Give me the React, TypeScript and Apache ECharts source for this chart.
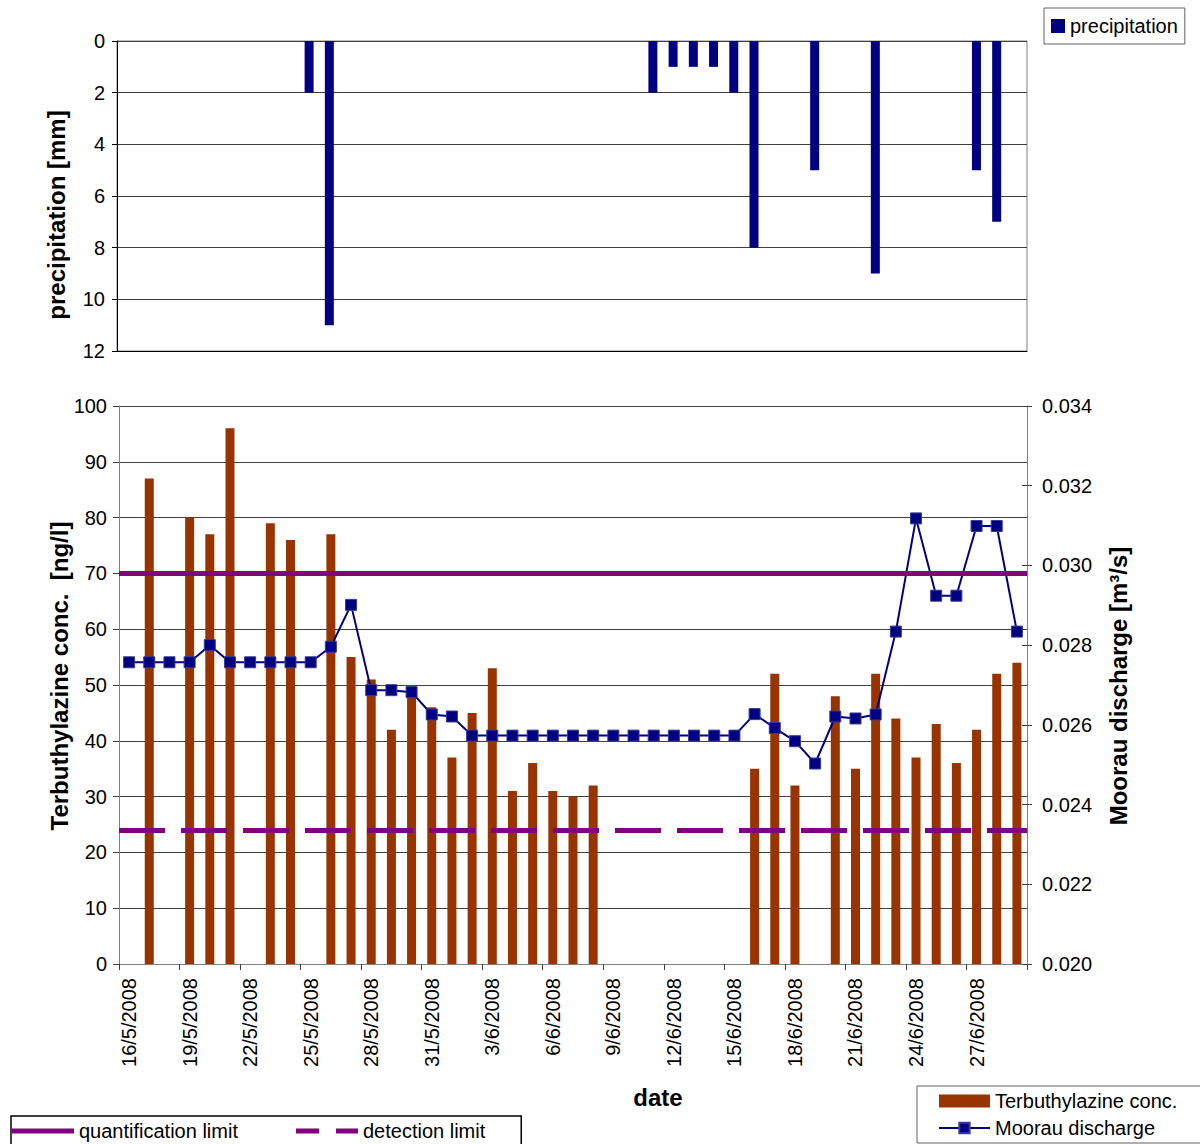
import React, { useEffect, useRef } from 'react';
import * as echarts from 'echarts';

const dates = [
  '16/5/2008', '17/5/2008', '18/5/2008', '19/5/2008', '20/5/2008', '21/5/2008', '22/5/2008', '23/5/2008',
  '24/5/2008', '25/5/2008', '26/5/2008', '27/5/2008', '28/5/2008', '29/5/2008', '30/5/2008', '31/5/2008',
  '1/6/2008', '2/6/2008', '3/6/2008', '4/6/2008', '5/6/2008', '6/6/2008', '7/6/2008', '8/6/2008',
  '9/6/2008', '10/6/2008', '11/6/2008', '12/6/2008', '13/6/2008', '14/6/2008', '15/6/2008', '16/6/2008',
  '17/6/2008', '18/6/2008', '19/6/2008', '20/6/2008', '21/6/2008', '22/6/2008', '23/6/2008', '24/6/2008',
  '25/6/2008', '26/6/2008', '27/6/2008', '28/6/2008', '29/6/2008',
];

const precipitation = [
  null, null, null, null, null, null, null, null, null, 2, 11,
  null, null, null, null, null, null, null, null, null, null, null, null, null, null, null,
  2, 1, 1, 1, 2, 8, null, null, 5, null, null, 9, null, null, null, null, 5, 7, null,
];

const terbuthylazine = [
  null, 87, null, 80, 77, 96, null, 79, 76, null,
  77, 55, 51, 42, 50, 46, 37, 45, 53, 31,
  36, 31, 30, 32, null, null, null, null, null, null, null,
  35, 52, 32, null, 48, 35, 52, 44, 37, 43, 36, 42, 52, 54,
];

const discharge = [
  0.02757, 0.02757, 0.02757, 0.02757, 0.0280, 0.02757, 0.02757, 0.02757, 0.02757, 0.02757,
  0.02796, 0.02901, 0.02687, 0.02687, 0.02682, 0.02626, 0.02621,
  0.02573, 0.02573, 0.02573, 0.02573, 0.02573, 0.02573, 0.02573, 0.02573, 0.02573, 0.02573,
  0.02573, 0.02573, 0.02573, 0.02573,
  0.02627, 0.02592, 0.02559, 0.02503, 0.02621, 0.02616, 0.02626, 0.02834, 0.03118, 0.02924,
  0.02924, 0.03099, 0.03099, 0.02834,
];

const quantificationLimit = 70;
const detectionLimit = 24;

const FONT = '"Liberation Sans", Arial, sans-serif';

export default function App() {
  const ref = useRef<HTMLDivElement>(null);
  useEffect(() => {
    const chart = echarts.init(ref.current as HTMLDivElement, null, { renderer: 'svg' });
    const titleStyle = (text: string) => ({
      text,
      fontSize: 24,
      fontWeight: 'bold',
      fontFamily: FONT,
      fill: '#000',
      textAlign: 'center',
      textVerticalAlign: 'middle',
    });
    const option: any = {
      animation: false,
      textStyle: { fontFamily: FONT, color: '#000' },
      grid: [
        { left: 117, top: 41, width: 910, height: 310, show: true, borderColor: '#808080', borderWidth: 1 },
        { left: 119, top: 406, width: 908, height: 558, show: false },
      ],
      xAxis: [
        {
          gridIndex: 0, type: 'category', data: dates, boundaryGap: true, position: 'bottom',
          axisLine: { onZero: false, lineStyle: { color: '#000', width: 1 } },
          axisTick: { show: false }, axisLabel: { show: false }, splitLine: { show: false },
        },
        {
          gridIndex: 1, type: 'category', data: dates, boundaryGap: true, position: 'bottom',
          axisLine: { onZero: false, lineStyle: { color: '#808080', width: 1 } },
          axisTick: { show: true, interval: 2, length: 6, lineStyle: { color: '#404040' } },
          axisLabel: { interval: 2, rotate: 90, fontSize: 20, color: '#000', margin: 14, fontFamily: FONT },
          splitLine: { show: false },
        },
      ],
      yAxis: [
        {
          gridIndex: 0, type: 'value', inverse: true, min: 0, max: 12, interval: 2,
          axisLine: { show: true, lineStyle: { color: '#000' } },
          axisTick: { show: true, length: 5, lineStyle: { color: '#000' } },
          axisLabel: { fontSize: 20, color: '#000', margin: 12, fontFamily: FONT },
          splitLine: { show: true, lineStyle: { color: '#404040', width: 1 } },
        },
        {
          gridIndex: 1, type: 'value', min: 0, max: 100, interval: 10, position: 'left',
          axisLine: { show: true, lineStyle: { color: '#808080' } },
          axisTick: { show: true, length: 6, lineStyle: { color: '#404040' } },
          axisLabel: { fontSize: 20, color: '#000', margin: 12, fontFamily: FONT },
          splitLine: { show: true, lineStyle: { color: '#404040', width: 1 } },
        },
        {
          gridIndex: 1, type: 'value', min: 0.02, max: 0.034, interval: 0.002, position: 'right',
          axisLine: { show: true, lineStyle: { color: '#808080' } },
          axisTick: { show: true, length: 5, lineStyle: { color: '#404040' } },
          axisLabel: {
            fontSize: 20, color: '#000', margin: 15, fontFamily: FONT,
            formatter: (v: number) => v.toFixed(3),
          },
          splitLine: { show: false },
        },
        {
          gridIndex: 1, type: 'value', min: 0.02, max: 0.034, interval: 0.002, position: 'right',
          axisLine: { show: false },
          axisTick: { show: true, inside: true, length: 5, lineStyle: { color: '#404040' } },
          axisLabel: { show: false },
          splitLine: { show: false },
        },
      ],
      legend: [
        {
          left: 1044, top: 8, orient: 'horizontal', selectedMode: false,
          data: [{ name: 'precipitation', icon: 'rect' }],
          itemWidth: 14, itemHeight: 14, padding: [8, 7, 8, 7],
          borderColor: '#606060', borderWidth: 1,
          textStyle: { fontSize: 20, color: '#000', fontFamily: FONT },
        },
        {
          left: 917, top: 1086, orient: 'vertical', selectedMode: false,
          data: [{ name: 'Terbuthylazine conc.', icon: 'rect' }, { name: 'Moorau discharge' }],
          itemWidth: 51, itemHeight: 13, itemGap: 7, padding: [5, 30, 5, 21],
          borderColor: '#606060', borderWidth: 1,
          textStyle: { fontSize: 20, color: '#000', fontFamily: FONT },
        },
        {
          left: 11, top: 1116, orient: 'horizontal', selectedMode: false,
          data: [
            { name: 'quantification limit', icon: 'rect' },
            { name: 'detection limit', icon: 'path://M0,0H23V5H0Z M40,0H62V5H40Z' },
          ],
          itemWidth: 62, itemHeight: 5, itemGap: 58, padding: [5, 36, 5, 1],
          borderColor: '#000', borderWidth: 1.5,
          textStyle: { fontSize: 20, color: '#000', fontFamily: FONT },
        },
      ],
      series: [
        {
          name: 'precipitation', type: 'bar', xAxisIndex: 0, yAxisIndex: 0,
          data: precipitation, barWidth: 9, itemStyle: { color: '#000080' },
        },
        {
          name: 'Terbuthylazine conc.', type: 'bar', xAxisIndex: 1, yAxisIndex: 1,
          data: terbuthylazine, barWidth: 9, itemStyle: { color: '#993300' }, z: 2,
        },
        {
          name: 'Moorau discharge', type: 'line', xAxisIndex: 1, yAxisIndex: 2,
          data: discharge, symbol: 'rect', symbolSize: 11, showAllSymbol: true,
          lineStyle: { color: '#000080', width: 2 },
          itemStyle: { color: '#000080', borderColor: '#3a3a9a', borderWidth: 1 }, z: 3,
        },
        {
          name: 'quantification limit', type: 'line', xAxisIndex: 1, yAxisIndex: 1,
          data: [], symbol: 'none', z: 5,
          lineStyle: { color: '#800080', width: 5 },
          itemStyle: { color: '#800080' },
          markLine: {
            silent: true, symbol: ['none', 'none'], label: { show: false },
            lineStyle: { color: '#800080', width: 5, type: 'solid' },
            data: [{ yAxis: quantificationLimit }],
          },
        },
        {
          name: 'detection limit', type: 'line', xAxisIndex: 1, yAxisIndex: 1,
          data: [], symbol: 'none', z: 5,
          lineStyle: { color: '#800080', width: 5, type: [46, 16] },
          itemStyle: { color: '#800080' },
          markLine: {
            silent: true, symbol: ['none', 'none'], label: { show: false },
            lineStyle: { color: '#800080', width: 5, type: [46, 16] },
            data: [{ yAxis: detectionLimit }],
          },
        },
      ],
      graphic: [
        { type: 'text', x: 56, y: 215, rotation: Math.PI / 2, style: titleStyle('precipitation [mm]') },
        { type: 'text', x: 59, y: 676, rotation: Math.PI / 2, style: titleStyle('Terbuthylazine conc.  [ng/l]') },
        { type: 'text', x: 1118, y: 686, rotation: Math.PI / 2, style: titleStyle('Moorau discharge [m³/s]') },
        { type: 'text', x: 658, y: 1097, style: titleStyle('date') },
      ],
    };
    chart.setOption(option);
    return () => chart.dispose();
  }, []);
  return (
    <div
      ref={ref}
      style={{ position: 'absolute', left: 0, top: 0, width: 1200, height: 1144, background: '#fff' }}
    />
  );
}
